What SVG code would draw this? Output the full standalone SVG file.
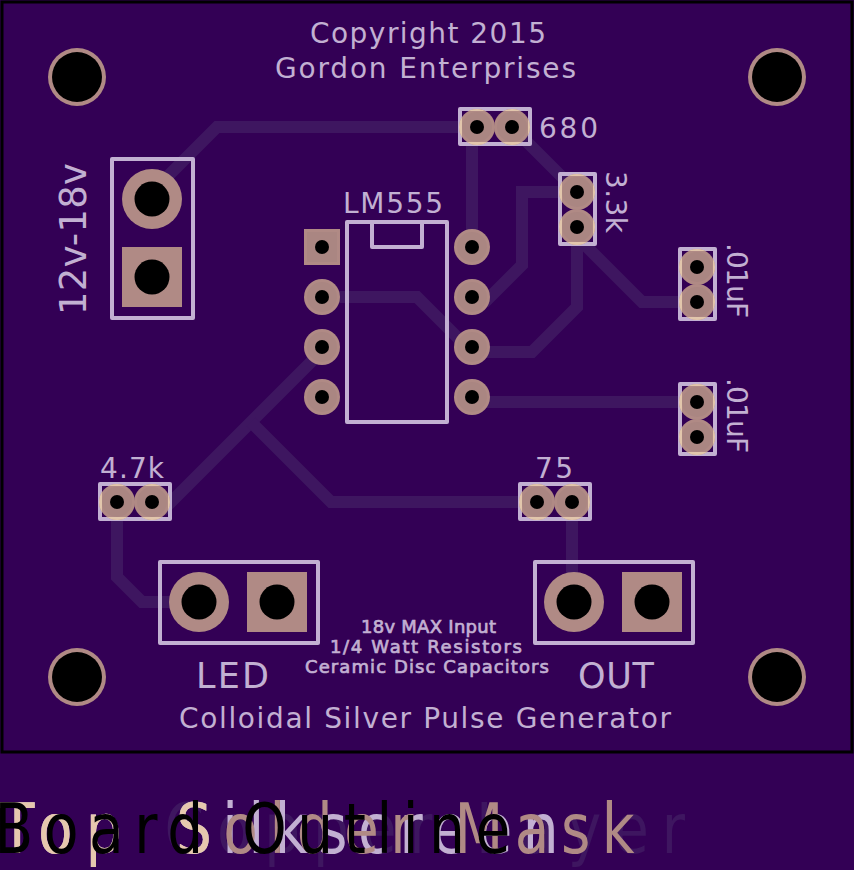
<svg xmlns="http://www.w3.org/2000/svg" width="854" height="870" viewBox="0 0 854 870">
<style>
.trace{fill:none;stroke:#3e1660;stroke-width:12;stroke-linejoin:miter}
.silk{fill:none;stroke:#c2b0d2;stroke-width:4;stroke-linejoin:round}
.hi{fill:none;stroke:#e2c6ac;stroke-width:4}
.cu{fill:#b08a85}
.mk{fill:#aa8682}
.hole{fill:#000}
text{font-family:"DejaVu Sans","Liberation Sans",sans-serif}
.st{fill:#c2b0d2;font-size:28px}
.sb{fill:#c2b0d2;font-size:35px}
.sp{fill:#c2b0d2;font-size:37px}
.ss{fill:#c2b0d2;font-size:18px;stroke:#c2b0d2;stroke-width:.7px}
.lg{font-size:69px}
</style>
<defs>
<g id="pad"><circle class="cu" r="18"/><circle class="mk" r="15"/><circle class="hole" r="7"/></g>
<g id="padsq"><rect class="cu" x="-18" y="-18" width="36" height="36"/><rect class="mk" x="-15" y="-15" width="30" height="30"/><circle class="hole" r="7"/></g>
<g id="big"><circle class="cu" r="30"/><circle class="hole" r="17.5"/></g>
<g id="bigsq"><rect class="cu" x="-30" y="-30" width="60" height="60"/><circle class="hole" r="17.5"/></g>
<g id="mount"><circle class="cu" r="29"/><circle class="hole" r="25"/></g>
<clipPath id="c680"><circle cx="477" cy="127" r="18"/><circle cx="512" cy="127" r="18"/></clipPath>
<clipPath id="c33"><circle cx="577" cy="192" r="18"/><circle cx="577" cy="227" r="18"/></clipPath>
<clipPath id="c1"><circle cx="697" cy="267" r="18"/><circle cx="697" cy="302" r="18"/></clipPath>
<clipPath id="c2"><circle cx="697" cy="402" r="18"/><circle cx="697" cy="437" r="18"/></clipPath>
<clipPath id="c47"><circle cx="117" cy="502" r="18"/><circle cx="152" cy="502" r="18"/></clipPath>
<clipPath id="c75"><circle cx="537" cy="502" r="18"/><circle cx="572" cy="502" r="18"/></clipPath>
</defs>
<rect width="854" height="870" fill="#330055"/>
<g id="connectors">
<polyline class="trace" points="152,192 217,127 477,127"/>
<polyline class="trace" points="472,127 472,247"/>
<polyline class="trace" points="512,127 577,192"/>
<polyline class="trace" points="577,192 522,192 522,265 484,303"/>
<polyline class="trace" points="472,352 532,352 577,307 577,227"/>
<polyline class="trace" points="577,237 642,302 697,302"/>
<polyline class="trace" points="472,402 697,402"/>
<polyline class="trace" points="322,297 417,297 472,352"/>
<polyline class="trace" points="320,353 162,511"/>
<polyline class="trace" points="251,422 331,502 537,502"/>
<polyline class="trace" points="117,502 117,577 142,602 199,602"/>
<polyline class="trace" points="572,502 572,602"/>
</g>
<g id="titles">
<text class="st" x="310" y="43" textLength="236" lengthAdjust="spacing">Copyright 2015</text>
<text class="st" x="275" y="78" textLength="301" lengthAdjust="spacing">Gordon Enterprises</text>
<text class="st" x="179" y="728" textLength="492" lengthAdjust="spacing">Colloidal Silver Pulse Generator</text>
<text class="ss" x="361" y="633" textLength="135" lengthAdjust="spacing">18v MAX Input</text>
<text class="ss" x="330" y="653" textLength="192" lengthAdjust="spacing">1/4 Watt Resistors</text>
<text class="ss" x="305" y="673" textLength="244" lengthAdjust="spacing">Ceramic Disc Capacitors</text>
</g>
<g id="mount-tl"><use href="#mount" x="77" y="77"/></g>
<g id="mount-tr"><use href="#mount" x="777" y="77"/></g>
<g id="mount-bl"><use href="#mount" x="77" y="677"/></g>
<g id="mount-br"><use href="#mount" x="777" y="677"/></g>
<g id="power">
<rect class="silk" x="112" y="159" width="81" height="159"/>
<use href="#big" x="152" y="199"/><use href="#bigsq" x="152" y="277"/>
<text class="sp" transform="translate(86 315) rotate(-90)" textLength="152" lengthAdjust="spacing">12v-18v</text>
</g>
<g id="lm555">
<path class="silk" d="M347 222H447V422H347ZM372 222V247H422V222"/>
<use href="#padsq" x="322" y="247"/><use href="#pad" x="322" y="297"/><use href="#pad" x="322" y="347"/><use href="#pad" x="322" y="397"/>
<use href="#pad" x="472" y="247"/><use href="#pad" x="472" y="297"/><use href="#pad" x="472" y="347"/><use href="#pad" x="472" y="397"/>
<text class="st" x="343" y="213" textLength="100" lengthAdjust="spacing">LM555</text>
</g>
<g id="r680">
<rect class="silk" x="460" y="109" width="70" height="35"/>
<use href="#pad" x="477" y="127"/><use href="#pad" x="512" y="127"/>
<rect class="hi" x="460" y="109" width="70" height="35" clip-path="url(#c680)"/>
<text class="st" x="539" y="138" textLength="59" lengthAdjust="spacing">680</text>
</g>
<g id="r3k3">
<rect class="silk" x="560" y="174" width="35" height="70"/>
<use href="#pad" x="577" y="192"/><use href="#pad" x="577" y="227"/>
<rect class="hi" x="560" y="174" width="35" height="70" clip-path="url(#c33)"/>
<text class="st" transform="translate(606 171) rotate(90)" textLength="62" lengthAdjust="spacing">3.3k</text>
</g>
<g id="c-top">
<rect class="silk" x="680" y="249" width="35" height="70"/>
<use href="#pad" x="697" y="267"/><use href="#pad" x="697" y="302"/>
<rect class="hi" x="680" y="249" width="35" height="70" clip-path="url(#c1)"/>
<text class="st" transform="translate(727 243) rotate(90)" textLength="75" lengthAdjust="spacing">.01uF</text>
</g>
<g id="c-bottom">
<rect class="silk" x="680" y="384" width="35" height="70"/>
<use href="#pad" x="697" y="402"/><use href="#pad" x="697" y="437"/>
<rect class="hi" x="680" y="384" width="35" height="70" clip-path="url(#c2)"/>
<text class="st" transform="translate(727 378) rotate(90)" textLength="75" lengthAdjust="spacing">.01uF</text>
</g>
<g id="r4k7">
<rect class="silk" x="100" y="484" width="70" height="35"/>
<use href="#pad" x="117" y="502"/><use href="#pad" x="152" y="502"/>
<rect class="hi" x="100" y="484" width="70" height="35" clip-path="url(#c47)"/>
<text class="st" x="100" y="478" textLength="64" lengthAdjust="spacing">4.7k</text>
</g>
<g id="r75">
<rect class="silk" x="520" y="484" width="70" height="35"/>
<use href="#pad" x="537" y="502"/><use href="#pad" x="572" y="502"/>
<rect class="hi" x="520" y="484" width="70" height="35" clip-path="url(#c75)"/>
<text class="st" x="535" y="478" textLength="38" lengthAdjust="spacing">75</text>
</g>
<g id="led">
<rect class="silk" x="160" y="562" width="158" height="81"/>
<use href="#big" x="199" y="602"/><use href="#bigsq" x="277" y="602"/>
<text class="sb" x="196" y="688" textLength="73" lengthAdjust="spacing">LED</text>
</g>
<g id="out">
<rect class="silk" x="535" y="562" width="158" height="81"/>
<use href="#big" x="574" y="602"/><use href="#bigsq" x="652" y="602"/>
<text class="sb" x="578" y="688" textLength="76" lengthAdjust="spacing">OUT</text>
</g>
<rect id="outline" x="2" y="2" width="850" height="750" fill="none" stroke="#000" stroke-width="3"/>
<g id="legend" transform="translate(0 853) scale(.82 1)">
<text class="lg" fill="#3e1660" letter-spacing="15.6">Top Copper Layer</text>
<text class="lg" fill="#c2b0d2" letter-spacing="16">Top <tspan x="214.6" letter-spacing="12.8">Silkscreen</tspan></text>
<text class="lg" fill="#b08a85" letter-spacing="16"><tspan fill="#e6c8ae">Top </tspan><tspan x="214.6" letter-spacing="14"><tspan fill="#e6c8ae">S</tspan>older Mask</tspan></text>
<text class="lg" fill="#000" x="-6.7" letter-spacing="12.9">Board Outline</text>
</g>
</svg>
